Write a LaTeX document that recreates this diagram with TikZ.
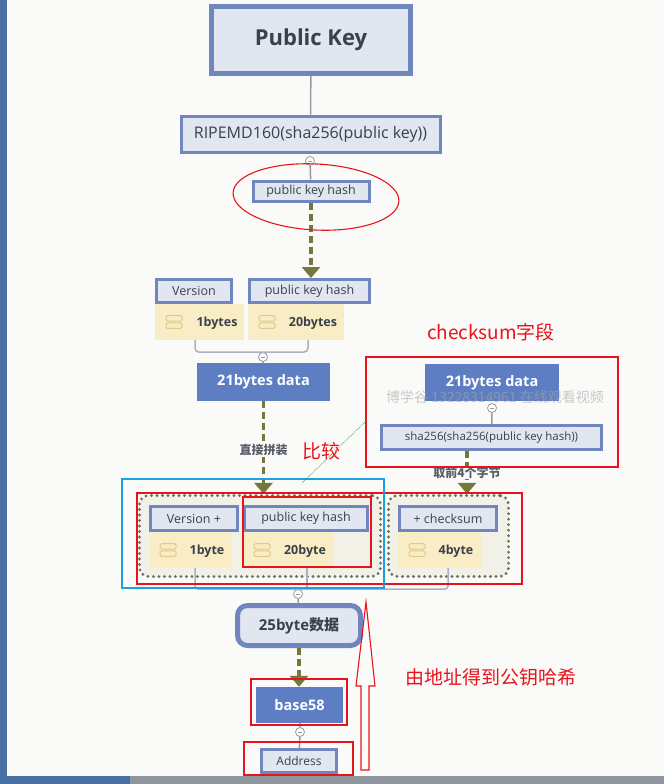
\documentclass[tikz,border=0pt]{standalone}
\usepackage{fontspec}
\setmainfont{Open Sans}
\newfontfamily\cjk{Noto Sans CJK SC}
\usepackage{tikz}
\usetikzlibrary{arrows.meta}
\definecolor{bg}{HTML}{FAFAF8}
\definecolor{keyblue}{HTML}{6F86BE}
\definecolor{keyfill}{HTML}{E1E6F1}
\definecolor{datablue}{HTML}{5E7EC3}
\definecolor{cellyellow}{HTML}{F8EDC5}
\definecolor{iconline}{HTML}{E3C88C}
\definecolor{olive}{HTML}{75783E}
\definecolor{dotgray}{HTML}{707060}
\definecolor{grpfill}{HTML}{F2F1E8}
\definecolor{ink}{HTML}{3C404C}
\definecolor{wiregray}{HTML}{9A9A9A}
\definecolor{bracegray}{HTML}{A9B1C6}
\definecolor{redpen}{HTML}{E8141C}
\definecolor{cyanpen}{HTML}{1BA1E2}
\definecolor{greenpen}{HTML}{2E9E40}
\definecolor{sidebar}{HTML}{4870A2}
\definecolor{bottombar}{HTML}{8F959C}

\begin{document}
\begin{tikzpicture}[x=1pt,y=-1pt,
  title/.style={draw=keyblue, line width=5pt, fill=keyfill, text=ink, inner sep=0pt,
    font=\fontsize{22}{26}\selectfont\bfseries},
  hashbox/.style={draw=keyblue, line width=3pt, fill=keyfill, text=ink, inner sep=0pt,
    font=\fontsize{12.5}{14}\selectfont},
  data/.style={fill=datablue, text=white, inner sep=0pt, font=\fontsize{14.5}{17}\selectfont\bfseries},
  cell/.style={fill=cellyellow, inner sep=0pt, minimum height=36pt,
    path picture={\draw[iconline, line width=1pt, rounded corners=1.5pt]
      ([xshift=11pt,yshift=0.8pt]path picture bounding box.west) rectangle ([xshift=27pt,yshift=6.3pt]path picture bounding box.west)
      ([xshift=11pt,yshift=-0.8pt]path picture bounding box.west) rectangle ([xshift=27pt,yshift=-6.3pt]path picture bounding box.west);}},
  celltext/.style={text=ink, inner sep=0pt, font=\fontsize{12.5}{14}\selectfont\bfseries},
  knob/.style={circle, draw=wiregray, fill=white, line width=0.8pt, minimum size=9pt, inner sep=0pt,
    path picture={\draw[wiregray, line width=0.8pt] ([xshift=-2.4pt]path picture bounding box.center) -- ([xshift=2.4pt]path picture bounding box.center);}},
  link/.style={draw=wiregray, line width=1.5pt},
  bracket/.style={draw=bracegray, line width=1.5pt, rounded corners=4pt},
  flow/.style={draw=olive, line width=3.5pt, dash pattern=on 7pt off 4pt, -{Triangle[width=18pt,length=11pt]}},
  group/.style={draw=dotgray, fill=grpfill, line width=3.2pt, dash pattern=on 0pt off 5.5pt, line cap=round,
    rounded corners=9pt, inner sep=0pt},
  stepnote/.style={fill=bg, text=ink!85, inner sep=1pt, font=\cjk\bfseries\fontsize{12}{14}\selectfont},
  redbox/.style={draw=redpen, line width=1.1pt},
  note/.style={text=redpen, inner sep=0pt, font=\cjk\fontsize{19}{22}\selectfont}]
  \useasboundingbox (0,0) rectangle (664,784);
  \fill[bg] (0,0) rectangle (664,784);
  \fill[sidebar] (0,0) rectangle (7,784);
  \fill[bottombar] (0,776) rectangle (664,784);
  \fill[sidebar] (0,776) rectangle (130,784);

  \node[title, minimum width=199pt, minimum height=67pt] (pubkey) at (311,40) {Public Key};
  \node[hashbox, minimum width=259pt, minimum height=36pt, font=\fontsize{16}{18}\selectfont] (ripemd) at (310.5,134) {RIPEMD160(sha256(public key))};
  \node[knob] (k1) at (310,161) {};
  \node[hashbox, minimum width=116pt, minimum height=20pt] (pkh) at (311,191) {public key hash};
  \draw[link] (pubkey) -- (ripemd);
  \draw[link] (k1) -- (pkh);

  \node[hashbox, minimum width=75pt, minimum height=23pt] (ver) at (194,291) {Version};
  \node[hashbox, minimum width=120pt, minimum height=23pt] (pkhb) at (309.5,291) {public key hash};
  \node[cell, minimum width=89pt] (cellv) at (199.5,322) {};
  \node[cell, minimum width=96pt] (cellh) at (296,322) {};
  \node[celltext] (v1) at (217,323) {1bytes};
  \node[celltext] (h20) at (313,323) {20bytes};
  \draw[flow] (pkh.south) -- (pkh.south |- pkhb.north);

  \node[knob] (k2) at (263,357) {};
  \draw[bracket] ([xshift=-4.5pt]cellv.south) |- ([xshift=12pt]cellh.south |- k2.north) -- ([xshift=12pt]cellh.south);
  \node[data, minimum width=133pt, minimum height=38pt] (data) at (263.5,382) {21bytes data};
  \draw[link] (k2) -- (data);

  \node[data, minimum width=134pt, minimum height=37pt] (dataR) at (492,382.5) {21bytes data};
  \node[knob] (k3) at (492,408) {};
  \node[hashbox, minimum width=220pt, minimum height=24pt, font=\fontsize{11.5}{13}\selectfont] (sha) at (491.5,437.5) {sha256(sha256(public key hash))};
  \draw[link] (k3) -- (sha);

  \node[group, minimum width=241pt, minimum height=81pt] (grpL) at (260,536) {};
  \node[group, minimum width=120pt, minimum height=81pt] (grpR) at (448.5,536) {};
  \node[hashbox, minimum width=87pt, minimum height=24pt] (verp) at (194,518.5) {Version +};
  \node[hashbox, minimum width=123pt, minimum height=24pt] (pkhc) at (306,518.5) {public key hash};
  \node[hashbox, minimum width=97pt, minimum height=24pt] (cks) at (448,518.5) {+ checksum};
  \node[cell, minimum width=83pt] (cellv2) at (190.5,550) {};
  \node[cell, minimum width=91pt] (cellh2) at (288.5,550) {};
  \node[cell, minimum width=83pt] (cellc) at (439.5,550) {};
  \node[celltext] (v1b) at (207,551) {1byte};
  \node[celltext] (h20b) at (305,551) {20byte};
  \node[celltext] (c4) at (456,551) {4byte};

  \draw[flow] (data.south) -- (data.south |- grpL.north) node[stepnote, pos=0.53] {直接拼装};
  \draw[flow] ([xshift=-24.5pt]sha.south) -- ([xshift=-24.5pt]sha.south |- grpR.north) node[stepnote, midway] {取前4个字节};

  \node[knob] (k4) at (298,594) {};
  \draw[bracket, rounded corners=3pt] ([xshift=4.5pt]cellv2.south) |- ([xshift=8.5pt]cellc.south |- k4.north) -- ([xshift=8.5pt]cellc.south);
  \draw[bracket] ([xshift=18.5pt]cellh2.south) -- ([xshift=18.5pt]cellh2.south |- k4.north);
  \node[title, rounded corners=10pt, minimum width=123pt, minimum height=40pt, font=\fontsize{15}{18}\selectfont\bfseries] (full) at (299,625.5) {25byte{\cjk\bfseries 数据}};
  \draw[link] (k4) -- (full);
  \node[data, minimum width=87pt, minimum height=36pt] (b58) at (299.5,705) {base58};
  \draw[flow] (full.south) -- (full.south |- b58.north);
  \node[knob] (k5) at (300,732) {};
  \node[hashbox, minimum width=75pt, minimum height=23pt, font=\fontsize{12}{14}\selectfont] (addr) at (299,761) {Address};
  \draw[link] (b58) -- (k5) -- (addr);

  \node[text=black!35, opacity=0.6, inner sep=0pt, font=\cjk\fontsize{14}{16}\selectfont] (wm) at (495,397) {博学谷 13228314961 在线观看视频};

  \draw[redbox, rotate around={-3:(316,197)}] (316,197) ellipse [x radius=83, y radius=33];
  \draw[redbox] (366,357) rectangle (618,467);
  \draw[redbox] (137,493) rectangle (522,584);
  \draw[redbox] (243,497) rectangle (371,567);
  \draw[redbox] (251,679) rectangle (347,725);
  \draw[redbox] (244,742) rectangle (353,775);
  \draw[draw=cyanpen, line width=1.1pt] (122,479) rectangle (384,588);
  \draw[draw=greenpen, line width=0.7pt, densely dotted] (302,483) -- (367,420);
  \draw[redbox] (361,770) -- (361,686) -- (356,686) -- (366,602) -- (375,686) -- (369,686) -- (369,770) -- cycle;
  \node[note] (cmpnote) at (321,451) {比较};
  \node[note] (cksnote) at (491,332) {checksum字段};
  \node[note] (backnote) at (491,677) {由地址得到公钥哈希};
\end{tikzpicture}
\end{document}
